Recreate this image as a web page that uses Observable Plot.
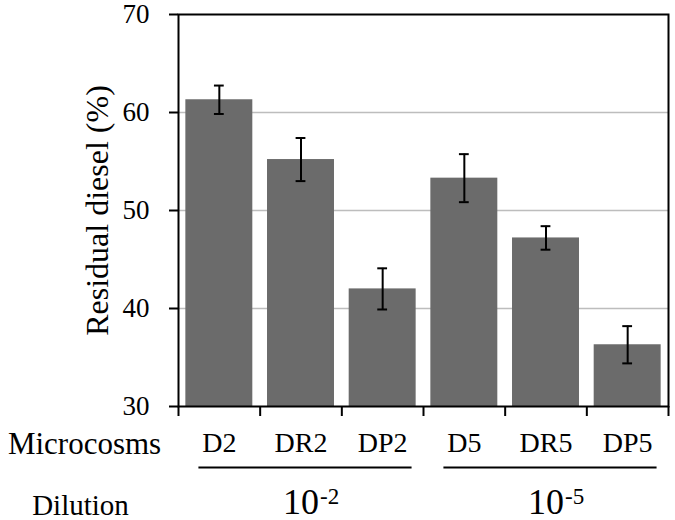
<!DOCTYPE html>
<html><head><meta charset="utf-8">
<script src="https://cdn.jsdelivr.net/npm/d3@7"></script>
<script src="https://cdn.jsdelivr.net/npm/@observablehq/plot@0.6"></script>
<style>body{margin:0;background:#fff} svg text{font-family:'Liberation Serif','Times New Roman',serif !important}</style>
</head><body><div id="chart"></div>
<script>
// ---- data ----
const categories = ["D2", "DR2", "DP2", "D5", "DR5", "DP5"];
const residual = [61.3, 55.2, 42.0, 53.3, 47.2, 36.3];
const errors = [1.45, 2.2, 2.1, 2.45, 1.2, 1.9];
const yTicks = [30, 40, 50, 60, 70];
const gridValues = [40, 50, 60];
const dilutionExponents = ["-2", "-5"];
const dilutionStart = [0, 3];
const dilutionSize = [3, 3];
const rowLabels = ["Microcosms", "Dilution"];
const yTitle = "Residual diesel (%)";

// ---- derived tables ----
const serif = "'Liberation Serif', 'Times New Roman', serif";
const idx = categories.map((c, i) => i);
const bars = idx.map(i => ({i, cat: categories[i], v: residual[i], e: errors[i]}));
const caps = bars.flatMap(d => [{i: d.i, y: d.v - d.e}, {i: d.i, y: d.v + d.e}]);
const groups = dilutionExponents.map((ex, k) => ({ex, start: dilutionStart[k], size: dilutionSize[k]}));
const boundaries = d3.range(0, categories.length + 1);

const chart = Plot.plot({
  width: 675,
  height: 520,
  marginLeft: 178,
  marginRight: 7,
  marginTop: 14,
  marginBottom: 114,
  style: {fontFamily: serif, background: "white", color: "black"},
  x: {type: "linear", domain: [0, categories.length]},
  y: {domain: [yTicks[0], yTicks[yTicks.length - 1]]},
  marks: [
    Plot.ruleY(gridValues, {stroke: "#bdbdbd", strokeWidth: 1.5}),
    Plot.rectY(bars, {x1: d => d.i + 0.09, x2: d => d.i + 0.91, y1: yTicks[0], y2: "v", fill: "#6b6b6b"}),
    Plot.ruleX(bars, {x: d => d.i + 0.5, y1: d => d.v - d.e, y2: d => d.v + d.e, stroke: "black", strokeWidth: 2}),
    Plot.ruleY(caps, {x1: d => d.i + 0.44, x2: d => d.i + 0.56, y: "y", stroke: "black", strokeWidth: 2}),
    Plot.frame({stroke: "black", strokeWidth: 2}),
    Plot.axisY(yTicks, {tickSize: 9, tickPadding: 20, fontSize: 27, fontFamily: serif, strokeWidth: 2, label: null}),
    Plot.axisX(boundaries, {tickSize: 10, strokeWidth: 2, tickFormat: () => "", label: null}),
    Plot.axisX(idx.map(i => i + 0.5), {tickSize: 0, tickPadding: 26, fontSize: 28, fontFamily: serif, tickFormat: v => categories[Math.floor(v)], label: null}),
    Plot.text([yTitle], {text: d => d, frameAnchor: "left", rotate: -90, textAnchor: "middle", dx: -71, lineAnchor: "bottom", fontSize: 32, fontFamily: serif}),
    Plot.text([rowLabels[0]], {text: d => d, frameAnchor: "bottom-left", textAnchor: "middle", lineAnchor: "bottom", dx: -94, dy: 47, fontSize: 31, fontFamily: serif}),
    Plot.text([rowLabels[1]], {text: d => d, frameAnchor: "bottom-left", textAnchor: "middle", lineAnchor: "bottom", dx: -98, dy: 108, fontSize: 29, fontFamily: serif}),
    Plot.ruleY(groups, {y: () => yTicks[0], x1: d => d.start + 0.25, x2: d => d.start + d.size - 0.14, dy: 61, stroke: "black", strokeWidth: 2}),
    Plot.text(groups, {x: d => d.start + d.size / 2, y: () => yTicks[0], text: () => "10", textAnchor: "end", lineAnchor: "bottom", dx: 18, dy: 107, fontSize: 36, fontFamily: serif}),
    Plot.text(groups, {x: d => d.start + d.size / 2, y: () => yTicks[0], text: "ex", textAnchor: "start", lineAnchor: "bottom", dx: 19, dy: 97, fontSize: 23, fontFamily: serif})
  ]
});
document.getElementById("chart").appendChild(chart);
</script>
</body></html>
